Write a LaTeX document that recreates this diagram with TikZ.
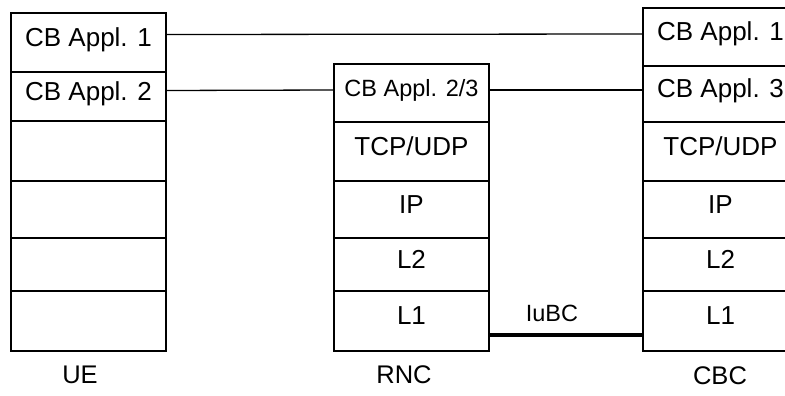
\documentclass[tikz,border=0pt]{standalone}
\usepackage{fontspec}
\setmainfont{Liberation Sans}
\begin{document}
\begin{tikzpicture}[x=1pt,y=-1pt,
  cell/.style={draw=black, line width=1.3pt, minimum width=155pt, inner sep=0pt,
    text height=0.72em, text depth=0pt, font=\fontsize{26}{31}\selectfont},
  small/.style={font=\fontsize{23.5}{28}\selectfont},
  lbl/.style={inner sep=0pt, text height=0.72em, text depth=0pt, font=\fontsize{25.5}{30}\selectfont},
  link/.style={line width=1.3pt},
  thicklink/.style={line width=3.2pt}]
\useasboundingbox[fill=white] (0,0) rectangle (785,396);
\begin{scope}
\clip (0,0) rectangle (785,396);
% UE stack
\node[cell, minimum height=59pt] (ue1) at (88.5,42.5) {CB Appl. 1};
\node[cell, minimum height=49pt] (ue2) at (88.5,96.5) {CB Appl. 2};
\node[cell, minimum height=60pt] (ue3) at (88.5,151) {};
\node[cell, minimum height=57pt] (ue4) at (88.5,209.5) {};
\node[cell, minimum height=53pt] (ue5) at (88.5,264.5) {};
\node[cell, minimum height=60pt] (ue6) at (88.5,321) {};
% RNC stack
\node[cell, small, minimum height=58pt] (rnc1) at (411.5,93) {CB Appl. 2/3};
\node[cell, minimum height=59pt] (rnc2) at (411.5,151.5) {TCP/UDP};
\node[cell, minimum height=57pt] (rnc3) at (411.5,209.5) {IP};
\node[cell, minimum height=53pt] (rnc4) at (411.5,264.5) {L2};
\node[cell, minimum height=60pt] (rnc5) at (411.5,321) {L1};
% CBC stack
\node[cell, minimum height=58pt] (cbc1) at (720.5,37) {CB Appl. 1};
\node[cell, minimum height=56pt] (cbc2) at (720.5,94) {CB Appl. 3};
\node[cell, minimum height=59pt] (cbc3) at (720.5,151.5) {TCP/UDP};
\node[cell, minimum height=57pt] (cbc4) at (720.5,209.5) {IP};
\node[cell, minimum height=53pt] (cbc5) at (720.5,264.5) {L2};
\node[cell, minimum height=60pt] (cbc6) at (720.5,321) {L1};
\end{scope}
% labels
\node[lbl] (uel) at (80,380) {UE};
\node[lbl] (rncl) at (404,380) {RNC};
\node[lbl] (cbcl) at (720,381) {CBC};
% connectors
\draw[link] ([yshift=8pt]ue1.east) -- ([yshift=3pt]cbc1.west);
\draw[link] ([yshift=6pt]ue2.east) -- ([yshift=3pt]rnc1.west);
\draw[link] ([yshift=3pt]rnc1.east) -- ([yshift=4pt]cbc2.west);
\draw[thicklink] ([yshift=-14pt]rnc5.east) -- node[above=12pt, xshift=-14pt, lbl, small] (iubc) {IuBC} ([yshift=-14pt]cbc6.west);
\end{tikzpicture}
\end{document}
